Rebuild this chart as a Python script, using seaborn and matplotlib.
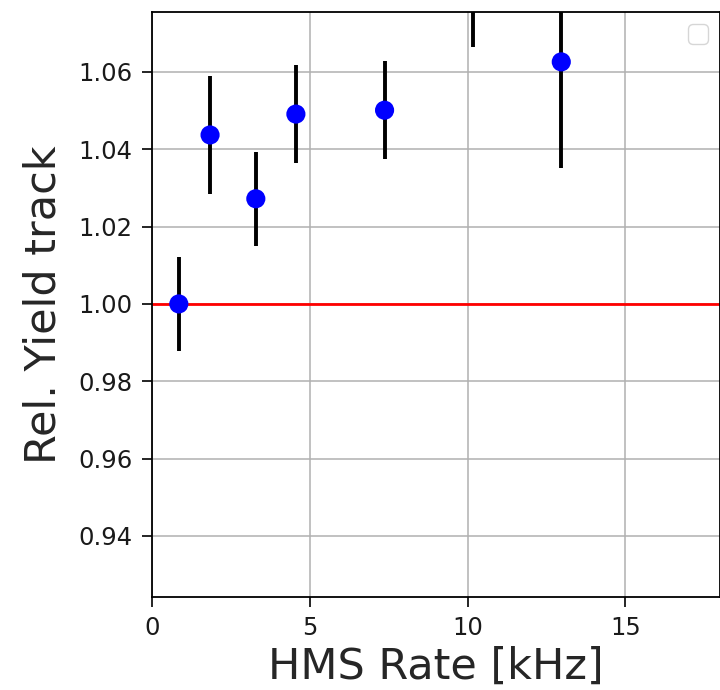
import numpy as np
import pandas as pd
import seaborn as sns
import matplotlib
matplotlib.use('Agg')
import matplotlib.pyplot as plt

# HMS rate [kHz] and relative tracking yield
rate = [0.85, 1.84, 3.29, 4.56, 7.37, 10.16, 12.97]
rel_yield = [1.000, 1.0437, 1.0272, 1.0491, 1.0501, 1.0795, 1.0626]
rel_err = [0.0122, 0.0153, 0.0122, 0.0127, 0.0126, 0.013, 0.0274]

if __name__ == "__main__":
    sns.set_style('white')
    plt.rcParams['font.family'] = ['DejaVu Sans']

    df = pd.DataFrame(dict(rate=rate, rel_yield=rel_yield, rel_err=rel_err))

    fig = plt.figure(figsize=(7.2, 6.9), dpi=100)
    ax = fig.add_axes([152 / 720, 93 / 690, 568 / 720, 585 / 690])

    ax.errorbar(df['rate'], df['rel_yield'], yerr=df['rel_err'],
                fmt='none', ecolor='black', elinewidth=2.8, zorder=2)
    sns.scatterplot(data=df, x='rate', y='rel_yield', ax=ax,
                    color='blue', s=190, edgecolor='none', zorder=3)
    ax.axhline(1.0, color='red', linewidth=2, zorder=1)

    ax.set_xlim(0, 18)
    ax.set_ylim(0.9242, 1.0755)
    ax.set_xticks([0, 5, 10, 15])
    ax.set_yticks([0.94, 0.96, 0.98, 1.00, 1.02, 1.04, 1.06])
    ax.yaxis.set_major_formatter(matplotlib.ticker.FormatStrFormatter('%.2f'))
    ax.grid(True, color='#b0b0b0', linewidth=1.1)
    ax.set_axisbelow(True)
    for sp in ax.spines.values():
        sp.set_color('black')
        sp.set_linewidth(1.3)
    ax.tick_params(axis='both', which='major', labelsize=17.5, length=7,
                   width=1.2, pad=7, color='black', left=True, bottom=True,
                   labelcolor='#1a1a1a')

    ax.set_xlabel('HMS Rate [kHz]', fontsize=31, labelpad=4)
    ax.set_ylabel('Rel. Yield track', fontsize=31, labelpad=10)

    ax.legend(loc='upper right', fontsize=17.5)

    plt.savefig('out.png', dpi=100)
